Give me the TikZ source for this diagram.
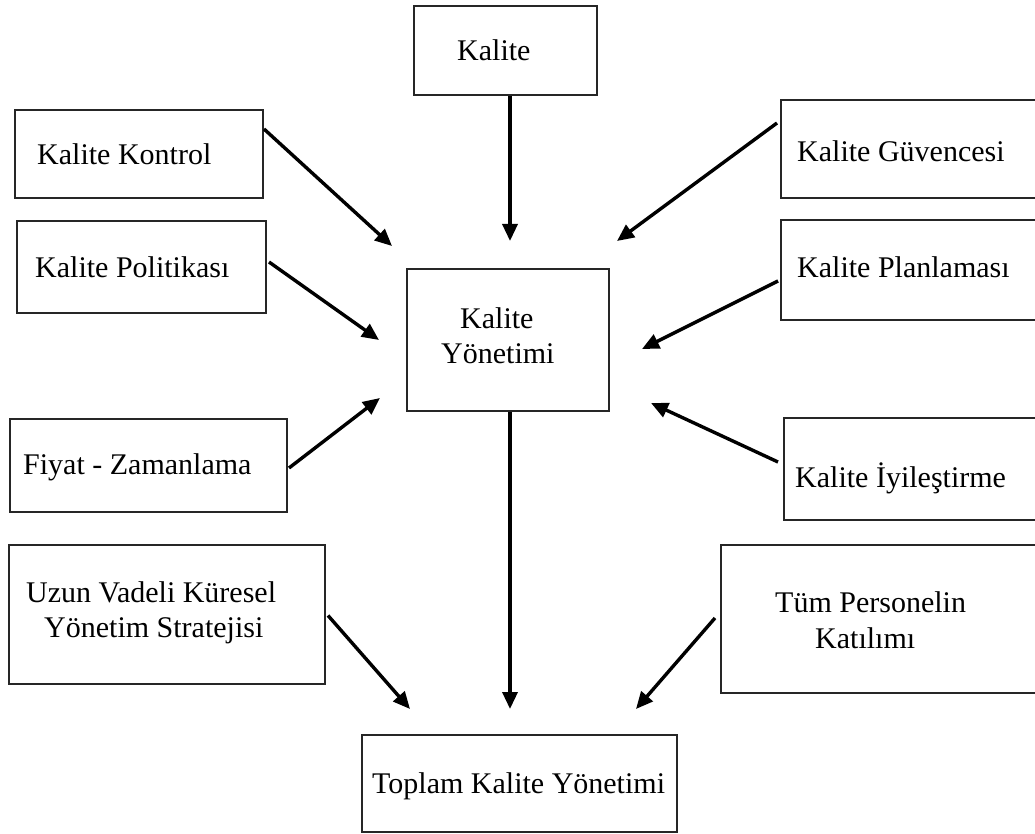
\documentclass[tikz,border=0pt]{standalone}
\usepackage{fontspec}
\setmainfont{Liberation Serif}
\usetikzlibrary{arrows.meta}
\begin{document}
\begin{tikzpicture}[x=1pt,y=-1pt,
  box/.style={draw=black!85, line width=2pt, inner sep=0pt, fill=white},
  lbl/.style={anchor=base west, inner sep=0pt, font=\fontsize{30}{36}\selectfont},
  arr/.style={line width=3.4pt, -{Triangle[length=17pt,width=15pt]}}]
\useasboundingbox (0,0) rectangle (1035,834);
\clip (0,0) rectangle (1035,834);

% boxes
\node[box, minimum width=183pt, minimum height=89pt]  (kal) at (505.5,50.5) {};
\node[box, minimum width=248pt, minimum height=88pt]  (kk)  at (139,154) {};
\node[box, minimum width=259pt, minimum height=98pt]  (kg)  at (910.5,149) {};
\node[box, minimum width=249pt, minimum height=92pt]  (kp)  at (141.5,267) {};
\node[box, minimum width=259pt, minimum height=100pt] (kpl) at (910.5,270) {};
\node[box, minimum width=202pt, minimum height=142pt] (ky)  at (508,340) {};
\node[box, minimum width=277pt, minimum height=93pt]  (fz)  at (148.5,465.5) {};
\node[box, minimum width=256pt, minimum height=102pt] (ki)  at (912,469) {};
\node[box, minimum width=316pt, minimum height=139pt] (uz)  at (167,614.5) {};
\node[box, minimum width=319pt, minimum height=148pt] (tp)  at (880.5,619) {};
\node[box, minimum width=315pt, minimum height=97pt]  (tky) at (519.5,783.5) {};

% labels
\node[lbl] (kal-t)  at (457,61)  {Kalite};
\node[lbl] (kk-t)   at (37,165)  {Kalite Kontrol};
\node[lbl] (kg-t)   at (797,162) {Kalite Güvencesi};
\node[lbl] (kp-t)   at (35,277)  {Kalite Politikası};
\node[lbl] (kpl-t)  at (797,277) {Kalite Planlaması};
\node[lbl] (ky-t1)  at (460,328) {Kalite};
\node[lbl] (ky-t2)  at (441,363) {Yönetimi};
\node[lbl] (fz-t)   at (23,474)  {Fiyat - Zamanlama};
\node[lbl] (ki-t)   at (795,487) {Kalite İyileştirme};
\node[lbl] (uz-t1)  at (26,602)  {Uzun Vadeli Küresel};
\node[lbl] (uz-t2)  at (44,637)  {Yönetim Stratejisi};
\node[lbl] (tp-t1)  at (775,612) {Tüm Personelin};
\node[lbl] (tp-t2)  at (815,648) {Katılımı};
\node[lbl] (tky-t)  at (372,793) {Toplam Kalite Yönetimi};

% connectors into Kalite Yönetimi
\draw[arr] ([xshift=4.5pt]kal.south) -- ([xshift=2pt,yshift=27pt]ky.north);
\draw[arr] ([yshift=25pt]kk.east) -- ([xshift=-14pt,yshift=22pt]ky.north west);
\draw[arr] ([xshift=-3pt,yshift=26pt]kg.west) -- ([xshift=7pt,yshift=27pt]ky.north east);
\draw[arr] ([xshift=2pt,yshift=5pt]kp.east) -- ([xshift=-27pt]ky.west);
\draw[arr] ([xshift=-2pt,yshift=-11pt]kpl.west) -- ([xshift=32pt,yshift=-9pt]ky.east);
\draw[arr] ([xshift=1pt,yshift=-2.5pt]fz.east) -- ([xshift=-26pt,yshift=14pt]ky.south west);
\draw[arr] ([xshift=-5pt,yshift=7pt]ki.west) -- ([xshift=41pt,yshift=9pt]ky.south east);

% connectors into Toplam Kalite Yönetimi
\draw[arr] ([xshift=2pt]ky.south) -- ([xshift=-9.5pt,yshift=25pt]tky.north);
\draw[arr] ([xshift=2pt,yshift=-1pt]uz.east) -- ([xshift=49pt,yshift=25pt]tky.north west);
\draw[arr] ([xshift=-5pt,yshift=1pt]tp.west) -- ([xshift=-42pt,yshift=25pt]tky.north east);
\end{tikzpicture}
\end{document}
